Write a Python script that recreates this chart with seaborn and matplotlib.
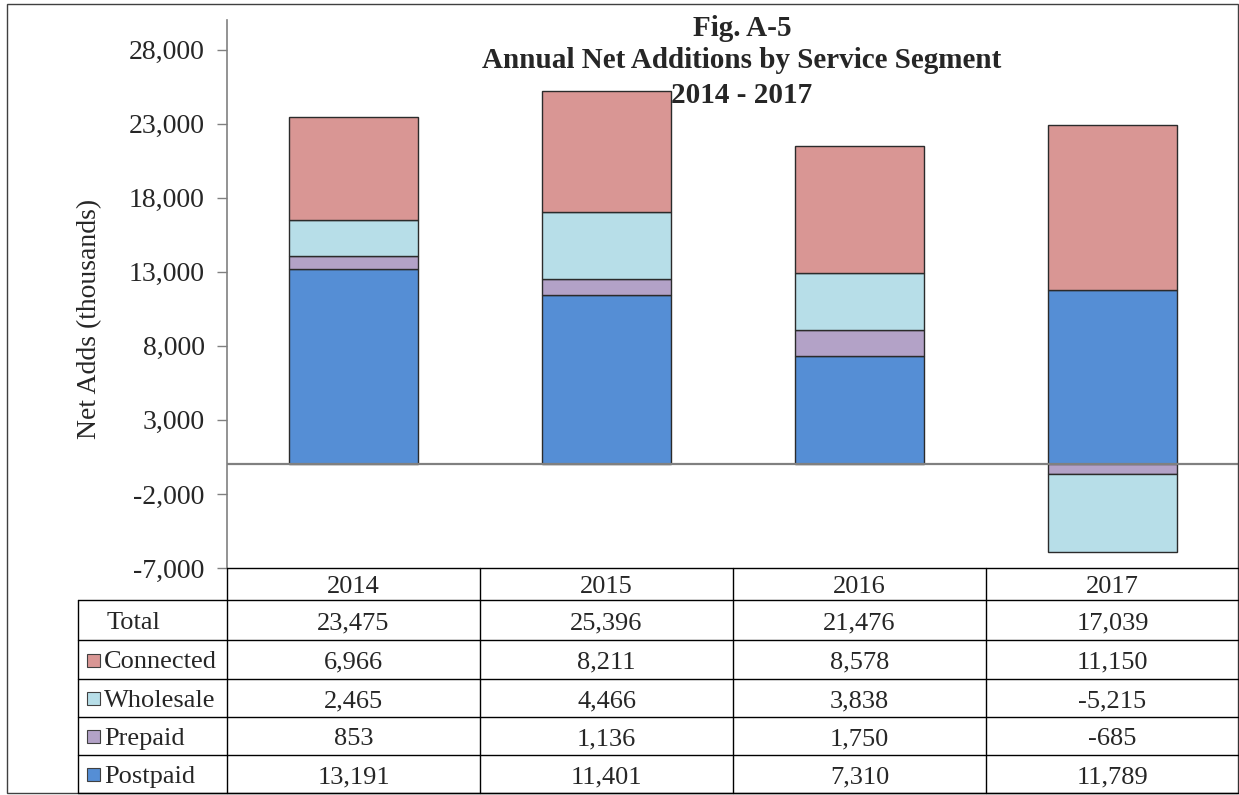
import matplotlib
matplotlib.use("Agg")
import matplotlib.pyplot as plt
import seaborn as sns
import numpy as np
import pandas as pd
from matplotlib.patches import Rectangle

years = ["2014", "2015", "2016", "2017"]
postpaid = [13191, 11401, 7310, 11789]
prepaid = [853, 1136, 1750, -685]
wholesale = [2465, 4466, 3838, -5215]
connected = [6966, 8211, 8578, 11150]
totals = [23475, 25396, 21476, 17039]
segments = ["Postpaid", "Prepaid", "Wholesale", "Connected"]
seg_values = [postpaid, prepaid, wholesale, connected]
seg_colors = ["#558ED5", "#B3A2C7", "#B7DEE8", "#D99694"]
yticks = [-7000, -2000, 3000, 8000, 13000, 18000, 23000, 28000]
title_lines = ["Fig. A-5", "Annual Net Additions by Service Segment", "2014 - 2017"]
ylabel = "Net Adds (thousands)"

sns.set_theme(style="white")
plt.rcParams["font.family"] = ["Liberation Serif", "DejaVu Serif"]

W, H = 1239, 795
fig = plt.figure(figsize=(W / 100, H / 100), dpi=100)

def fx(px):
    return px / W

def fy(py):
    return 1 - py / H

ax_l, ax_r, ax_t, ax_b = 227, 1239, 20, 568
ax = fig.add_axes([fx(ax_l), fy(ax_b), fx(ax_r - ax_l), (ax_b - ax_t) / H])

pos_bottom = np.zeros(len(years))
neg_bottom = np.zeros(len(years))
for name, vals, col in zip(segments, seg_values, seg_colors):
    vals = np.array(vals, dtype=float)
    bottoms = np.where(vals >= 0, pos_bottom, neg_bottom)
    df = pd.DataFrame({"year": years, "value": vals})
    sns.barplot(data=df, x="year", y="value", order=years, bottom=bottoms,
                color=col, width=0.51, edgecolor="#2b2b2b", linewidth=1.0,
                saturation=1, ax=ax, zorder=2)
    pos_bottom = pos_bottom + np.where(vals >= 0, vals, 0)
    neg_bottom = neg_bottom + np.where(vals < 0, vals, 0)

ax.set_xlim(-0.5, len(years) - 0.5)
ax.set_ylim(-7000, 30000)
ax.set_yticks(yticks)
ax.set_yticklabels([f"{v:,}" for v in yticks], fontsize=20)
ax.tick_params(axis="y", direction="out", length=7, width=1, color="#808080",
               pad=9, left=True)
ax.set_xticks([])
ax.set_xlabel("")
ax.set_ylabel(ylabel, fontsize=20)
ax.yaxis.set_label_coords(-0.123, 0.455)
ax.axhline(0, color="#808080", linewidth=1.6, zorder=3)
for s in ["top", "right"]:
    ax.spines[s].set_visible(False)
ax.spines["left"].set_color("#808080")
ax.spines["left"].set_linewidth(1.2)
ax.spines["bottom"].set_visible(False)
ax.set_facecolor("none")

# Title
ty = [36, 68, 103]
for line, y in zip(title_lines, ty):
    fig.text(fx(742), fy(y), line, ha="center", va="baseline", fontsize=21,
             fontweight="bold")

# Overlay for table and border
ov = fig.add_axes([0, 0, 1, 1], facecolor="none")
ov.set_xlim(0, W)
ov.set_ylim(H, 0)
ov.axis("off")

lc = "#000000"
lw = 1.0
ov.add_patch(Rectangle((7, 4), 1231, 789, fill=False, edgecolor="#404040", lw=1.0))

col_edges = [227, 480, 733, 986, 1239]
row_edges = [568, 600, 640, 679, 717, 755, 793]
ov.plot([227, 1239], [568, 568], color=lc, lw=lw)
for y in row_edges[1:]:
    ov.plot([78, 1239], [y, y], color=lc, lw=lw)
for x in col_edges:
    ov.plot([x, x], [568, 793], color=lc, lw=lw)
ov.plot([78, 78], [600, 793], color=lc, lw=lw)

dy = 3
for i, yr in enumerate(years):
    cx = (col_edges[i] + col_edges[i + 1]) / 2
    ov.text(cx, 584 + dy, yr, ha="center", va="center", fontsize=19)

rows = [("Total", totals, None)] + [
    (segments[k], seg_values[k], seg_colors[k]) for k in [3, 2, 1, 0]
]
for r, (name, vals, col) in enumerate(rows):
    cy = (row_edges[r + 1] + row_edges[r + 2]) / 2
    if col is None:
        ov.text(107, cy + dy, name, ha="left", va="center", fontsize=19)
    else:
        ov.add_patch(Rectangle((87, cy - 6), 13, 13, facecolor=col,
                               edgecolor="#404040", lw=0.8))
        ov.text(104, cy + dy, name, ha="left", va="center", fontsize=19)
    for i, v in enumerate(vals):
        cx = (col_edges[i] + col_edges[i + 1]) / 2
        ov.text(cx, cy + dy, f"{v:,}", ha="center", va="center", fontsize=19)

fig.savefig("out.png", dpi=100)
